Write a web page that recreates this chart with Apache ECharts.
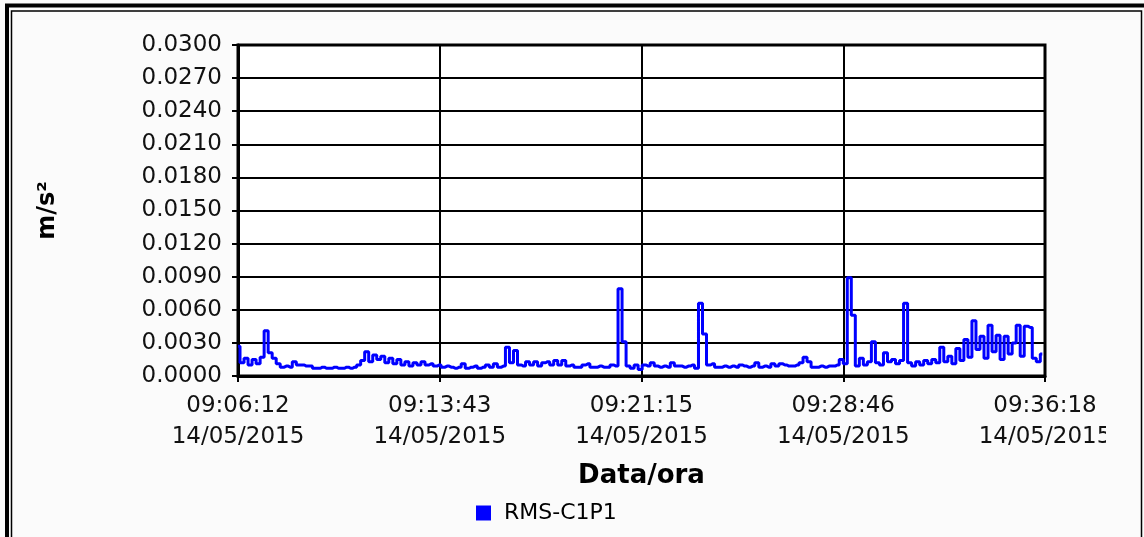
<!DOCTYPE html>
<html>
<head>
<meta charset="utf-8">
<script src="https://cdn.jsdelivr.net/npm/echarts@6/dist/echarts.min.js"></script>
<style>
  html, body { margin: 0; padding: 0; background: #fbfbfb; }
  #chart { width: 1144px; height: 537px; }
</style>
</head>
<body>
<div id="chart"></div>
<script>
// etichette asse x (inizio 09:06:12, fine 09:36:18)
var xTickLabels = [
  '09:06:12\n14/05/2015',
  '09:13:43\n14/05/2015',
  '09:21:15\n14/05/2015',
  '09:28:46\n14/05/2015',
  '09:36:18\n14/05/2015'
];
var spanSec = 1806;      // durata totale in secondi
var sampleSec = 9;       // passo di campionamento
// valori RMS-C1P1 in m/s²
var rmsC1P1 = [
  0.0027, 0.0012, 0.0016, 0.0010, 0.0015, 0.0011, 0.0017, 0.0041, 0.0021, 0.0016,
  0.0011, 0.0008, 0.0009, 0.0008, 0.0013, 0.0010, 0.0010, 0.0009, 0.0009, 0.0007,
  0.0007, 0.0008, 0.0007, 0.0007, 0.0008, 0.0007, 0.0007, 0.0008, 0.0007, 0.0008,
  0.0010, 0.0014, 0.0022, 0.0013, 0.0019, 0.0015, 0.0018, 0.0012, 0.0016, 0.0011,
  0.0015, 0.0010, 0.0013, 0.0009, 0.0012, 0.0010, 0.0013, 0.0010, 0.0011, 0.0009,
  0.0010, 0.0008, 0.0009, 0.0008, 0.0007, 0.0008, 0.0011, 0.0007, 0.0008, 0.0009,
  0.0007, 0.0008, 0.0010, 0.0008, 0.0011, 0.0008, 0.0009, 0.0026, 0.0012, 0.0023,
  0.0010, 0.0009, 0.0013, 0.0010, 0.0013, 0.0009, 0.0012, 0.0013, 0.0010, 0.0014,
  0.0010, 0.0014, 0.0009, 0.0010, 0.0008, 0.0008, 0.0010, 0.0011, 0.0008, 0.0008,
  0.0009, 0.0008, 0.0008, 0.0010, 0.0009, 0.0079, 0.0031, 0.0009, 0.0007, 0.0010,
  0.0006, 0.0010, 0.0009, 0.0012, 0.0009, 0.0008, 0.0009, 0.0008, 0.0012, 0.0009,
  0.0009, 0.0008, 0.0009, 0.0010, 0.0007, 0.0066, 0.0038, 0.0010, 0.0011, 0.0008,
  0.0008, 0.0009, 0.0008, 0.0009, 0.0008, 0.0010, 0.0009, 0.0008, 0.0009, 0.0012,
  0.0008, 0.0009, 0.0008, 0.0011, 0.0009, 0.0011, 0.0010, 0.0009, 0.0009, 0.0010,
  0.0012, 0.0017, 0.0013, 0.0008, 0.0008, 0.0009, 0.0008, 0.0009, 0.0009, 0.0010,
  0.0015, 0.0011, 0.0089, 0.0055, 0.0009, 0.0016, 0.0010, 0.0013, 0.0031, 0.0012,
  0.0010, 0.0021, 0.0013, 0.0015, 0.0011, 0.0014, 0.0066, 0.0012, 0.0009, 0.0013,
  0.0010, 0.0014, 0.0011, 0.0015, 0.0012, 0.0026, 0.0013, 0.0018, 0.0011, 0.0025,
  0.0014, 0.0033, 0.0017, 0.0050, 0.0024, 0.0036, 0.0016, 0.0046, 0.0022, 0.0037,
  0.0015, 0.0036, 0.0020, 0.0030, 0.0046, 0.0018, 0.0045, 0.0044, 0.0016, 0.0013,
  0.0020
];

var chart = echarts.init(document.getElementById('chart'));
var font = 'DejaVu Sans';

chart.setOption({
  backgroundColor: '#fbfbfb',
  animation: false,
  graphic: [
    // doppia cornice esterna
    { type: 'rect', shape: { x: 7, y: 5.5, width: 1200, height: 600 },
      style: { fill: null, stroke: '#000', lineWidth: 4 }, z: 100 },
    { type: 'rect', shape: { x: 11.5, y: 11, width: 1130, height: 600 },
      style: { fill: null, stroke: '#000', lineWidth: 1.5 }, z: 100 },
    // l'ultima etichetta viene tagliata a destra
    { type: 'rect', shape: { x: 1106, y: 390, width: 34, height: 70 },
      style: { fill: '#fbfbfb' }, z: 99 }
  ],
  grid: {
    left: 238, right: 99, top: 45, bottom: 161,
    show: true, backgroundColor: '#fff', borderColor: '#000', borderWidth: 3
  },
  legend: {
    left: 471, top: 497,
    icon: 'rect', itemWidth: 15, itemHeight: 15, itemGap: 6,
    textStyle: { fontFamily: font, fontSize: 22, color: '#000', padding: [0, 0, 0, 8] },
    data: ['RMS-C1P1']
  },
  xAxis: {
    type: 'value',
    min: 0, max: spanSec, interval: spanSec / 4,
    name: 'Data/ora',
    nameLocation: 'middle', nameGap: 87,
    nameTextStyle: { fontFamily: font, fontSize: 26, fontWeight: 'bold', color: '#000' },
    axisLine: { show: true, lineStyle: { color: '#000', width: 3 } },
    axisTick: { show: true, length: 6, lineStyle: { color: '#000', width: 2 } },
    axisLabel: {
      margin: 15, color: '#111', fontFamily: font, fontSize: 23, lineHeight: 31,
      showMinLabel: true, showMaxLabel: true,
      formatter: function (v) { return xTickLabels[Math.round(v / (spanSec / 4))]; }
    },
    splitLine: { show: true, lineStyle: { color: '#000', width: 2 } }
  },
  yAxis: {
    type: 'value',
    min: 0, max: 0.03, interval: 0.003,
    name: 'm/s²',
    nameLocation: 'middle', nameGap: 178, nameRotate: 90,
    nameTextStyle: { fontFamily: font, fontSize: 24, fontWeight: 'bold', color: '#000' },
    axisLine: { show: true, lineStyle: { color: '#000', width: 3 } },
    axisTick: { show: true, length: 6, lineStyle: { color: '#000', width: 2 } },
    axisLabel: {
      margin: 16, color: '#111', fontFamily: font, fontSize: 23,
      formatter: function (v) { return v.toFixed(4); }
    },
    splitLine: { show: true, lineStyle: { color: '#000', width: 2 } }
  },
  series: [{
    name: 'RMS-C1P1',
    type: 'line',
    step: 'middle',
    symbol: 'none',
    color: '#0000ff',
    lineStyle: { width: 3, color: '#0000ff' },
    data: rmsC1P1.map(function (v, i) { return [i * sampleSec, v]; })
  }]
});
</script>
</body>
</html>
